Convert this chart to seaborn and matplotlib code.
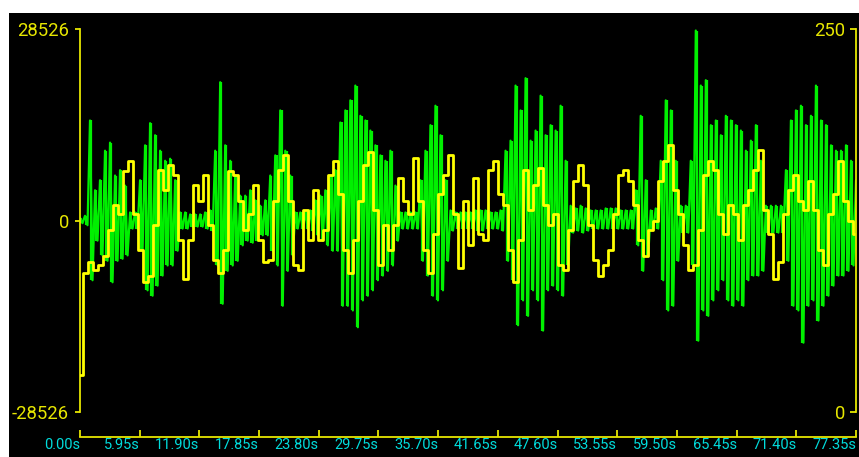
import numpy as np
import matplotlib
matplotlib.use("Agg")
import matplotlib.pyplot as plt
import seaborn as sns
from matplotlib.patches import Rectangle

# pitch track (right axis, 0..250), one value every ~0.5 s
pitch = [24, 91, 98, 93, 96, 102, 119, 135, 129, 157, 164, 129, 106, 85, 89, 122, 158, 145, 161, 155, 112, 87, 112, 148, 138, 155, 122,
         99, 91, 106, 157, 155, 138, 119, 129, 148, 112, 98, 99, 138, 158, 168, 138, 96, 93, 132, 112, 145, 112, 119, 155, 164, 142,
         106, 91, 112, 138, 161, 170, 132, 96, 122, 106, 122, 153, 138, 129, 166, 138, 106, 91, 116, 142, 155, 168, 129, 94, 138, 109,
         153, 116, 112, 158, 164, 142, 135, 106, 85, 112, 158, 132, 148, 159, 135, 122, 129, 96, 93, 119, 151, 161, 148, 122, 99, 89,
         96, 106, 129, 155, 158, 151, 135, 112, 102, 119, 125, 151, 164, 174, 145, 129, 109, 93, 96, 119, 155, 164, 158, 129, 116, 135,
         129, 112, 135, 145, 158, 171, 132, 116, 87, 98, 129, 145, 155, 138, 132, 151, 132, 106, 96, 129, 142, 164, 138, 125, 116]

# waveform peaks (left axis), max and min per ~0.5 s
green_hi = [400, 700, 14900, 4500, 6000, 10400, 11600, 6700, 7500, 5200, 1200, 1200, 6000, 11200, 14500, 12700, 10400, 8900, 9200, 6000, 1200, 1200, 900, 900, 900, 1200, 1500,
            10400, 20600, 11200, 8900, 6700, 3700, 3700, 4500, 3000, 2200, 3000, 6700, 9700, 16400, 10400, 6700, 1200, 1200, 1200, 1500, 3000, 3700, 4500, 6700, 7500, 14600,
            16400, 17900, 20100, 15600, 14900, 13400, 11200, 9700, 8900, 10400, 5200, 1200, 1200, 1200, 1200, 6000, 10400, 14200, 17100, 12700, 6000, 1500, 1200, 1200, 1200, 1200,
            1500, 1500, 1500, 1200, 1200, 1500, 10400, 11900, 20100, 16400, 21200, 11900, 13400, 18600, 12700, 14200, 13400, 17100, 8900, 2200, 1800, 2200, 1800, 1500, 1500, 1500,
            1800, 1800, 1800, 1500, 1500, 1500, 4500, 15600, 6000, 1500, 1800, 8900, 17900, 16400, 8900, 2200, 2200, 8900, 28300, 20100, 20900, 14200, 14900, 12700, 15600, 14900,
            14200, 13400, 10400, 11900, 14200, 8900, 2200, 2200, 2200, 2200, 7500, 14900, 16400, 17100, 14200, 15600, 20100, 14900, 14200, 11200, 10400, 10400, 11200, 8900, 6000]
green_lo = [-400, -700, -8900, -3000, -5200, -6000, -9200, -6000, -5700, -5200, -1200, -1200, -4500, -10400, -11200, -9700, -8200, -6700, -6700, -4500, -1200, -1200, -900, -900, -900, -1200, -1500,
            -6700, -12400, -7500, -6700, -6000, -3700, -3000, -3300, -3000, -2200, -2200, -4500, -6700, -12700, -7500, -5200, -1200, -1200, -1200, -1500, -2200, -3000, -3700, -4500, -4500, -12700,
            -12700, -13400, -15900, -11900, -11200, -10400, -8900, -8200, -7500, -6700, -3000, -1200, -1200, -1200, -1200, -6000, -8200, -11200, -11900, -10400, -6000, -1500, -1200, -1200, -1200, -1200,
            -1500, -1500, -1200, -1200, -1200, -1500, -6000, -8900, -15600, -11900, -14200, -10400, -11900, -16400, -10400, -9700, -10400, -11200, -6700, -1800, -1500, -1800, -1500, -1200, -1200, -1200,
            -1200, -1200, -1200, -1200, -1200, -1200, -3700, -7500, -5200, -1200, -1200, -8900, -13400, -12700, -6000, -1800, -1800, -6700, -17900, -13400, -14200, -11900, -10400, -8900, -11900, -12700,
            -11900, -12700, -8900, -8200, -8200, -7500, -1800, -1800, -1800, -1800, -6000, -12700, -13400, -18200, -12700, -11900, -14900, -12700, -11200, -9700, -8200, -8200, -7500, -6700, -4500]

amp_ticks = [-28526, 0, 28526]
amp_labels = ['-28526', '0', '28526']
pitch_ticks = [0, 250]
time_ticks = [0.00, 5.95, 11.90, 17.85, 23.80, 29.75, 35.70, 41.65, 47.60, 53.55, 59.50, 65.45, 71.40, 77.35]
time_labels = [f'{v:.2f}s' for v in time_ticks]

sns.set_theme(style="ticks")
plt.rcParams['font.family'] = ['Roboto', 'DejaVu Sans']

AX_YELLOW = '#E6E600'
CYAN = '#00DCDC'
GREEN = '#00F000'
PX = 72 / 100  # points per pixel at dpi 100

fig = plt.figure(figsize=(8.59, 4.57), dpi=100, facecolor='white')
fig.patches.append(Rectangle((9 / 859, 0), 850 / 859, 444 / 457, transform=fig.transFigure,
                             facecolor='black', edgecolor='none', zorder=-10))
ax = fig.add_axes([80 / 859, 45 / 457, 776 / 859, 383 / 457])
ax.set_facecolor('none')

t = np.linspace(0, 77.35, len(pitch))
step = t[1] - t[0]
wave_t = np.column_stack((t, t + step / 2)).ravel()
wave_y = np.column_stack((green_hi, green_lo)).ravel()

# peak columns + min/max trace, like a waveform editor
ax.vlines(t + step / 4, green_lo, green_hi, color=GREEN, lw=1.6)
sns.lineplot(x=wave_t, y=wave_y, sort=False, estimator=None, color=GREEN, lw=1.6, ax=ax)
ax.set_xlim(0, 77.35)
ax.set_ylim(-28526, 28526)
ax.grid(False)
ax.set_xlabel('')
ax.set_ylabel('')

ax.spines['top'].set_visible(False)
ax.spines['right'].set_visible(False)
for s in ['left', 'bottom']:
  ax.spines[s].set_color(AX_YELLOW)
  ax.spines[s].set_linewidth(1.3)
ax.spines['bottom'].set_position(('outward', 25 * PX))

ax.set_xticks(time_ticks)
ax.set_xticklabels(time_labels, ha='right')
ax.tick_params(axis='x', direction='in', length=7 * PX, width=1.3, color=AX_YELLOW,
               labelcolor=CYAN, labelsize=10.5, pad=1)
ax.set_yticks(amp_ticks)
ax.set_yticklabels(amp_labels)
ax.tick_params(axis='y', direction='out', length=5 * PX, width=1.3, color=AX_YELLOW,
               labelcolor=AX_YELLOW, labelsize=13.3, pad=6 * PX)

ax2 = ax.twinx()
sns.lineplot(x=t, y=pitch, color='#FFFF00', lw=2.0, drawstyle='steps-mid', ax=ax2)
ax2.set_ylim(0, 250)
ax2.grid(False)
ax2.set_ylabel('')
for s in ['left', 'top', 'bottom']:
  ax2.spines[s].set_visible(False)
ax2.spines['right'].set_color(AX_YELLOW)
ax2.spines['right'].set_linewidth(1.3)
ax2.set_yticks(pitch_ticks)
ax2.set_yticklabels([str(v) for v in pitch_ticks])
ax2.tick_params(axis='y', direction='in', length=6 * PX, width=1.3, color=AX_YELLOW,
                labelcolor=AX_YELLOW, labelsize=13.3, pad=-11 * PX)
for lab in ax2.get_yticklabels():
  lab.set_horizontalalignment('right')

fig.savefig('out.png', dpi=100, facecolor='white')
